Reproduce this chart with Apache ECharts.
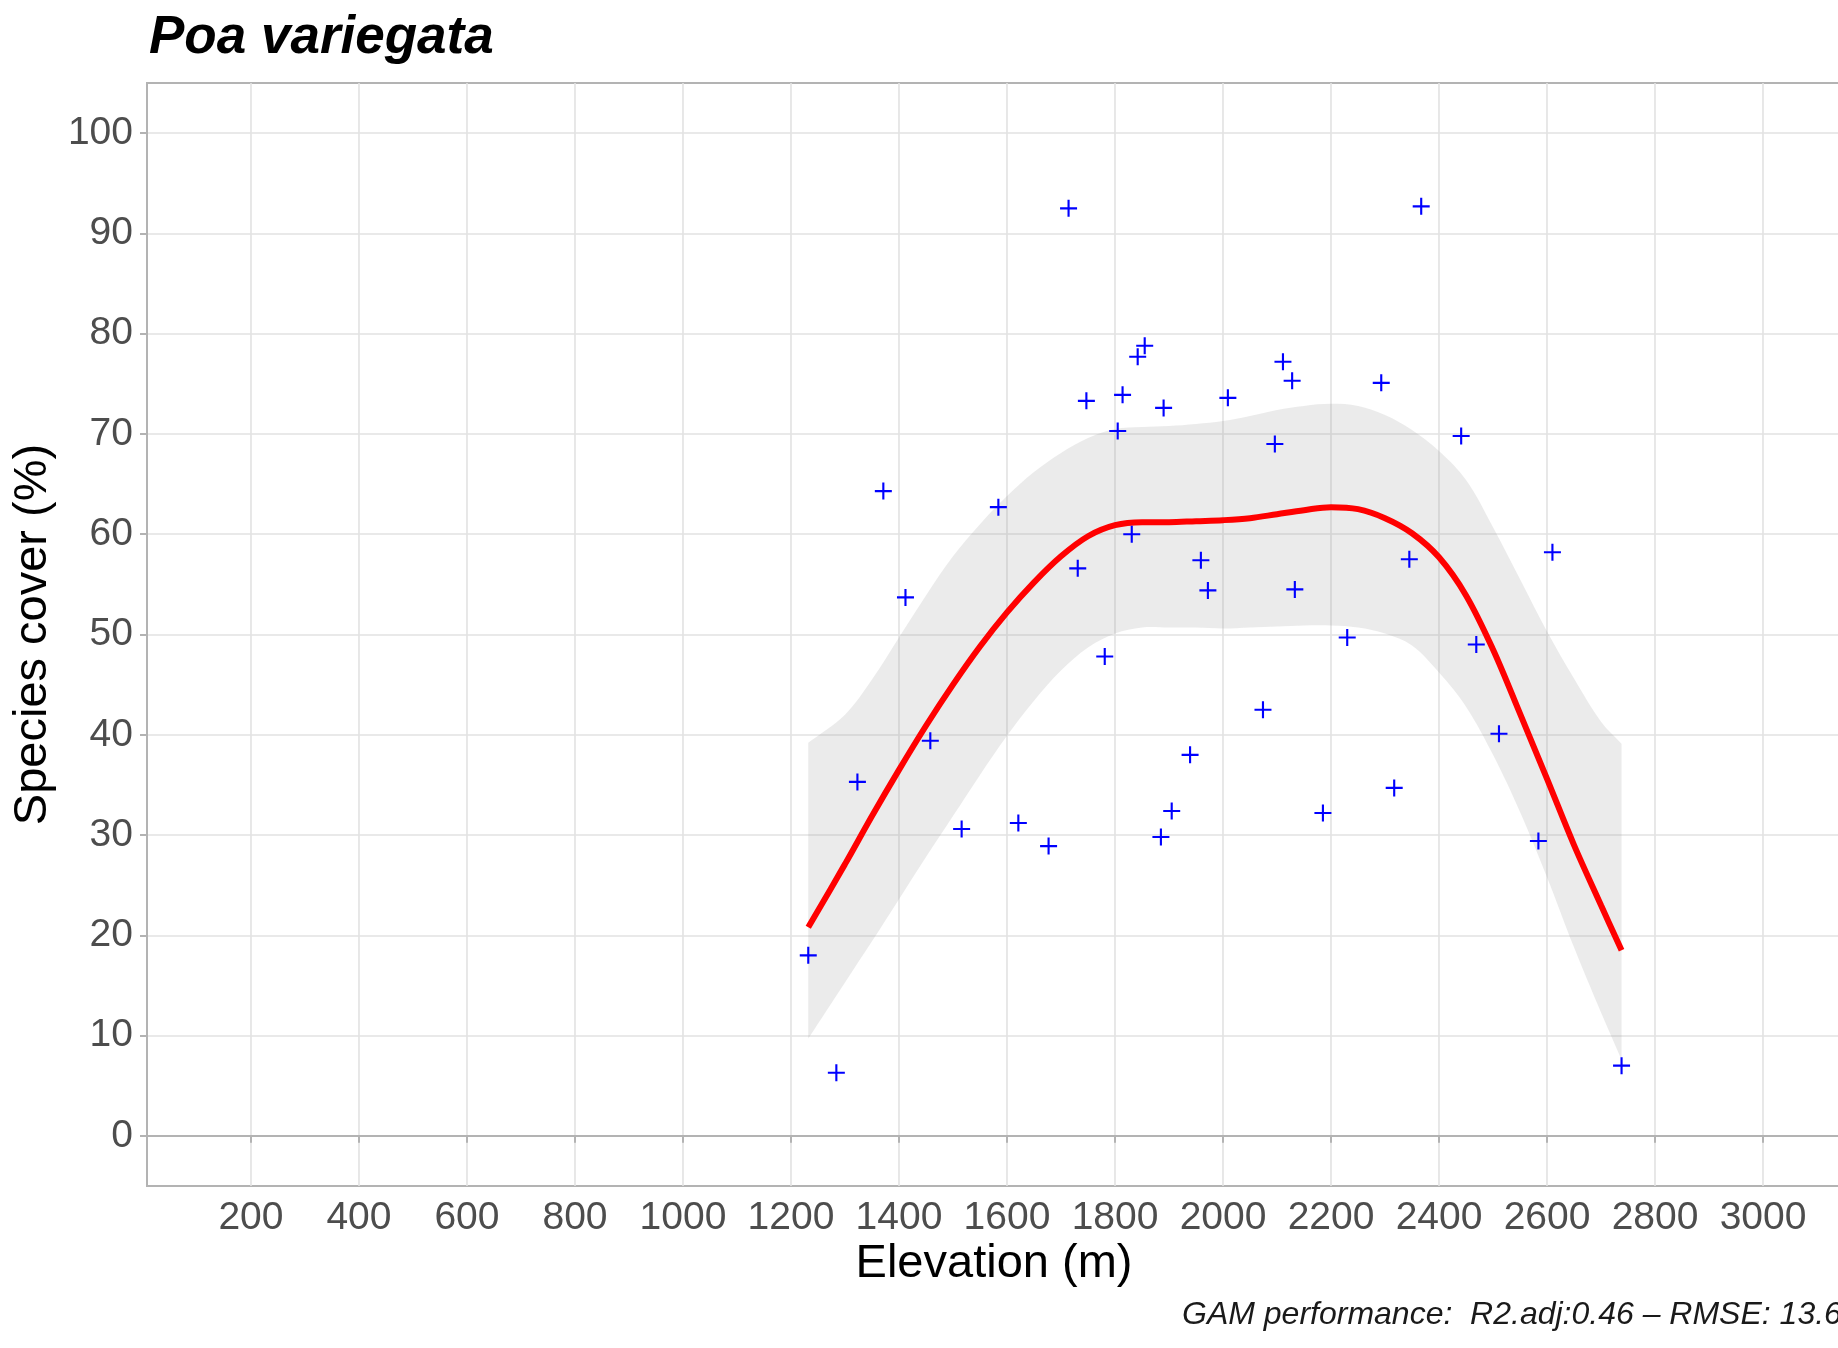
<!DOCTYPE html>
<html>
<head>
<meta charset="utf-8">
<script src="https://cdn.jsdelivr.net/npm/echarts@6/dist/echarts.min.js"></script>
<style>
html,body{margin:0;padding:0;background:#ffffff;}
#chart{width:1838px;height:1348px;}
</style>
</head>
<body>
<div id="chart"></div>
<script>
// ---- data ----
const elevation = [1232, 1284, 1323, 1371, 1412, 1458, 1516, 1584, 1621, 1677,
                   1714, 1731, 1747, 1781, 1805, 1814, 1831, 1842, 1855, 1885,
                   1890, 1905, 1939, 1959, 1972, 2009, 2074, 2096, 2111, 2128,
                   2133, 2185, 2230, 2293, 2317, 2345, 2367, 2441, 2469, 2511,
                   2584, 2610, 2738];
const cover = [18.0, 6.3, 35.3, 64.3, 53.7, 39.4, 30.6, 62.7, 31.2, 28.9,
               92.5, 56.6, 73.3, 47.8, 70.3, 73.9, 60.0, 77.7, 78.8, 29.8,
               72.6, 32.4, 38.0, 57.4, 54.4, 73.6, 42.5, 69.0, 77.2, 75.3,
               54.5, 32.2, 49.7, 75.1, 34.7, 57.5, 92.7, 69.8, 49.0, 40.1,
               29.4, 58.2, 7.0];

const fitX = [1232, 1300, 1350, 1400, 1450, 1500, 1550, 1600, 1650, 1700,
              1750, 1800, 1850, 1900, 1950, 2000, 2050, 2100, 2150, 2200,
              2250, 2300, 2350, 2400, 2450, 2500, 2550, 2600, 2650, 2700, 2738];
const fitY = [20.8, 27.1, 31.9, 36.5, 40.9, 45.0, 48.8, 52.2, 55.2, 57.8,
              59.8, 60.9, 61.2, 61.2, 61.3, 61.4, 61.6, 62.0, 62.4, 62.7,
              62.5, 61.6, 60.1, 57.7, 53.9, 48.5, 42.1, 35.6, 29.0, 23.0, 18.5];
const fitUpper = [39.2, 42.0, 45.5, 49.7, 53.9, 57.8, 61.0, 63.8, 66.2, 68.1,
                  69.6, 70.5, 70.7, 70.8, 71.0, 71.3, 71.8, 72.4, 72.8, 73.0,
                  72.8, 71.9, 70.4, 68.3, 65.4, 60.7, 55.5, 50.3, 45.6, 41.3, 39.1];
const fitLower = [9.7, 15.3, 19.4, 23.6, 27.8, 31.9, 36.0, 39.9, 43.4, 46.4,
                  48.7, 50.1, 50.7, 50.7, 50.7, 50.6, 50.7, 50.8, 50.9, 50.9,
                  50.7, 50.1, 48.9, 46.2, 42.8, 38.0, 32.3, 25.8, 18.8, 12.3, 7.6];

const xTicks = [200, 400, 600, 800, 1000, 1200, 1400, 1600, 1800, 2000,
                2200, 2400, 2600, 2800, 3000];
const yTicks = [0, 10, 20, 30, 40, 50, 60, 70, 80, 90, 100];

const titleText = 'Poa variegata';
const xName = 'Elevation (m)';
const yName = 'Species cover (%)';
const captionText = 'GAM performance:  R2.adj:0.46 \u2013 RMSE: 13.6';

// ---- chart ----
const FONT = '"Liberation Sans", Arial, Helvetica, sans-serif';
const chart = echarts.init(document.getElementById('chart'), null, {renderer: 'canvas'});

const points = elevation.map((x, i) => [x, cover[i]]);
const fitLine = fitX.map((x, i) => [x, fitY[i]]);
const SMOOTH = 0.35;

const option = {
  backgroundColor: '#ffffff',
  animation: false,
  grid: {
    left: 147, top: 83, width: 1693, height: 1103,
    show: true, borderColor: '#b3b3b3', borderWidth: 2,
    backgroundColor: 'transparent',
    containLabel: false,
    outerBoundsMode: 'none'
  },
  xAxis: {
    type: 'value', min: 7.5, max: 3142.5,
    axisLine: {show: true, lineStyle: {color: '#b3b3b3', width: 2}},
    axisTick: {show: true, length: 7, lineStyle: {color: '#b3b3b3', width: 2}, customValues: xTicks},
    axisLabel: {customValues: xTicks, fontSize: 39, color: '#4d4d4d', fontFamily: FONT, margin: 13,
                formatter: function (v) { return String(v); }},
    splitLine: {show: true, lineStyle: {color: '#e2e2e2', width: 1.6}},
    minorSplitLine: {show: false}
  },
  yAxis: {
    type: 'value', min: -5, max: 105,
    axisLine: {show: true, lineStyle: {color: '#b3b3b3', width: 2}},
    axisTick: {show: true, length: 7, lineStyle: {color: '#b3b3b3', width: 2}, customValues: yTicks},
    axisLabel: {customValues: yTicks, fontSize: 39, color: '#4d4d4d', fontFamily: FONT, margin: 14,
                formatter: function (v) { return String(v); }},
    splitLine: {show: true, lineStyle: {color: '#e2e2e2', width: 1.6}}
  },
  graphic: [
    {type: 'text', x: 149, y: 38, style: {text: titleText, fontSize: 53, fontWeight: 'bold', fontStyle: 'italic', fontFamily: FONT, fill: '#000000', align: 'left', verticalAlign: 'middle'}},
    {type: 'text', x: 994, y: 1264, style: {text: xName, fontSize: 47, fontFamily: FONT, fill: '#000000', align: 'center', verticalAlign: 'middle'}},
    {type: 'text', x: 33, y: 634.5, rotation: Math.PI / 2, style: {text: yName, fontSize: 47, fontFamily: FONT, fill: '#000000', align: 'center', verticalAlign: 'middle'}},
    {type: 'text', x: 1182, y: 1315, style: {text: captionText, fontSize: 32, fontStyle: 'italic', fontFamily: FONT, fill: '#1a1a1a', align: 'left', verticalAlign: 'middle'}}
  ],
  series: [
    {
      type: 'custom',
      silent: true,
      z: 1,
      data: [[fitX[0], fitLower[0]]],
      renderItem: function (params, api) {
        const n = fitX.length;
        const pts = [];
        // upper edge, left to right; corner points doubled so the end edges stay straight
        pts.push(api.coord([fitX[0], fitUpper[0]]));
        for (let i = 0; i < n; i++) pts.push(api.coord([fitX[i], fitUpper[i]]));
        pts.push(api.coord([fitX[n - 1], fitUpper[n - 1]]));
        // lower edge, right to left
        pts.push(api.coord([fitX[n - 1], fitLower[n - 1]]));
        for (let i = n - 1; i >= 0; i--) pts.push(api.coord([fitX[i], fitLower[i]]));
        pts.push(api.coord([fitX[0], fitLower[0]]));
        return {type: 'polygon', shape: {points: pts, smooth: SMOOTH},
                style: {fill: 'rgba(153,153,153,0.2)', stroke: null}};
      }
    },
    {
      type: 'line',
      data: fitLine,
      smooth: SMOOTH,
      showSymbol: false,
      symbol: 'none',
      silent: true,
      z: 3,
      lineStyle: {color: '#ff0000', width: 6, cap: 'butt'}
    },
    {
      type: 'scatter',
      data: points,
      symbol: 'path://M7,0H9V7H16V9H9V16H7V9H0V7H7Z',
      symbolSize: 17,
      silent: true,
      z: 4,
      itemStyle: {color: '#0000ff', opacity: 1}
    }
  ]
};
chart.setOption(option);
</script>
</body>
</html>
